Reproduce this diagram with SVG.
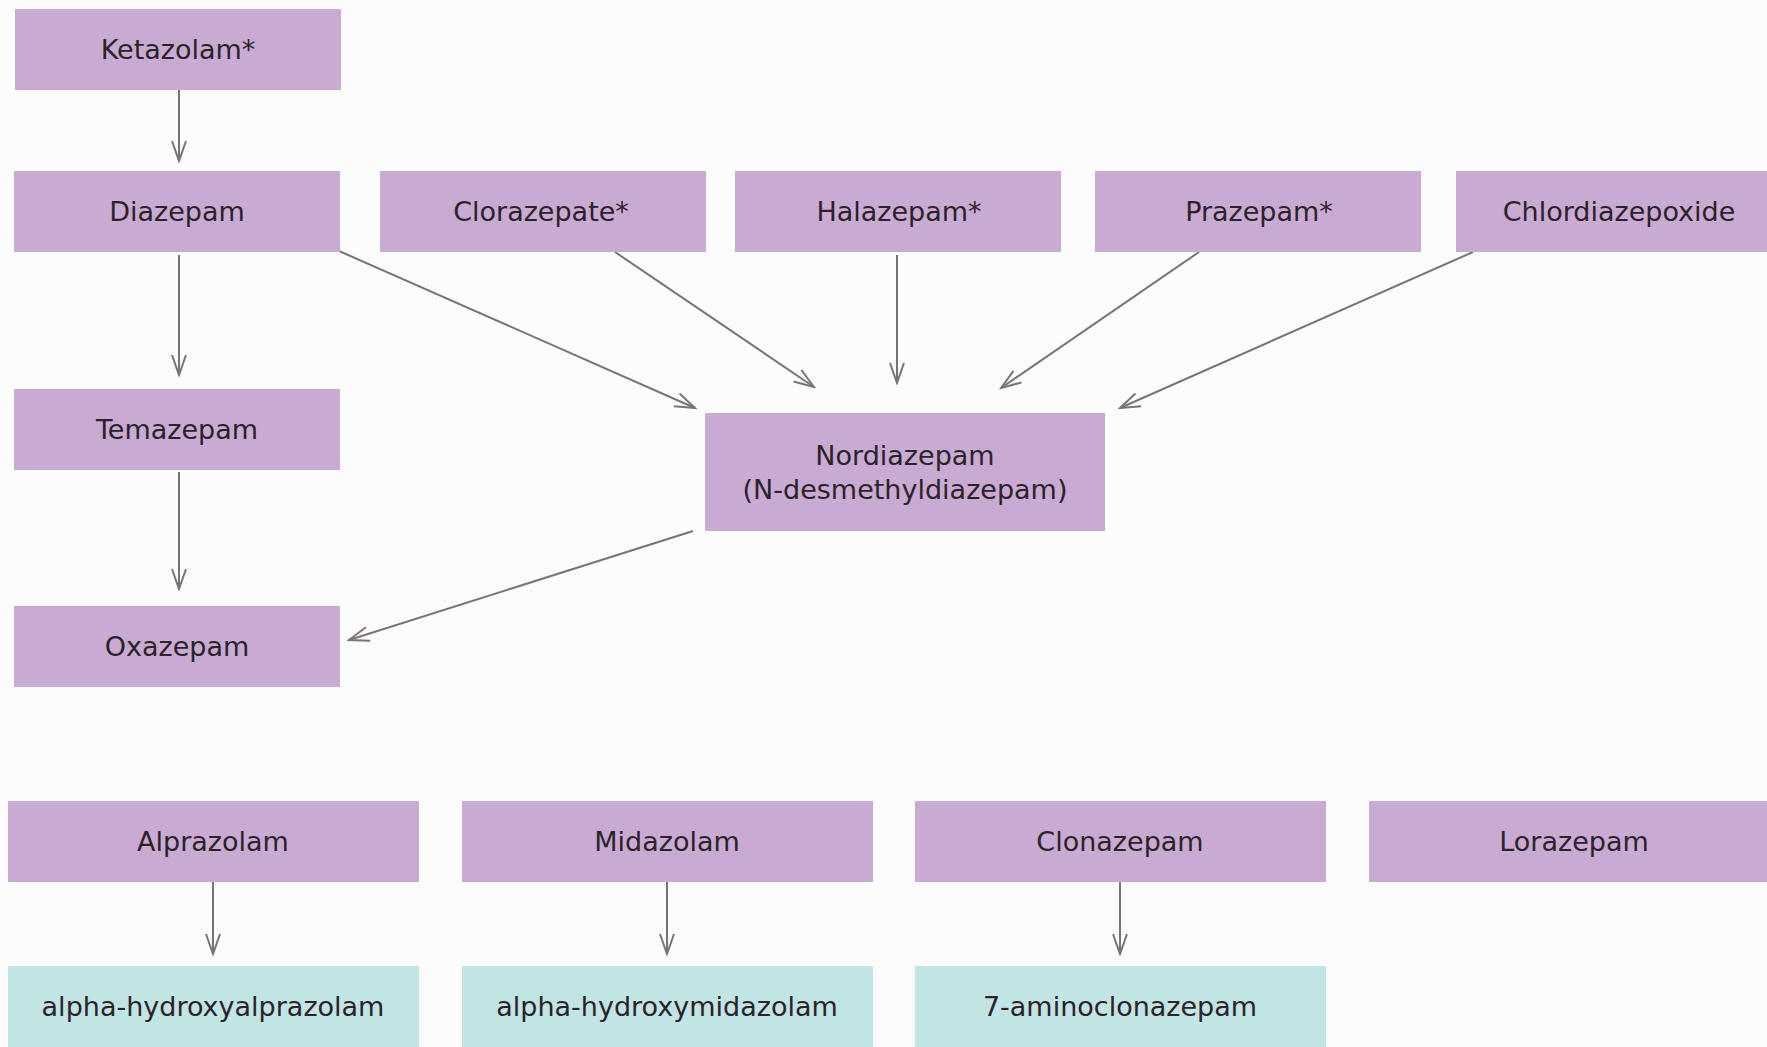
<svg xmlns="http://www.w3.org/2000/svg" width="1767" height="1047" viewBox="0 0 1767 1047">
<defs>
<style>
.p{fill:#c8aad2}
.t{fill:#c1e4e4}
.lb{font-family:"DejaVu Sans",sans-serif;font-size:27px;fill:#2b2329;text-anchor:middle}
.c{stroke:#7a7373;stroke-width:2;fill:none;marker-end:url(#ah)}
</style>
<marker id="ah" markerUnits="userSpaceOnUse" viewBox="-2 -2 24 18" refX="20" refY="7" markerWidth="24" markerHeight="18" orient="auto">
<path d="M0,0 L20,7 L0,14" fill="none" stroke="#7a7373" stroke-width="2"/>
</marker>
</defs>
<rect width="1767" height="1047" fill="#fdfcfc"/>
<g id="connectors">
<line class="c" x1="179" y1="90" x2="179" y2="161"/>
<line class="c" x1="179" y1="255" x2="179" y2="375"/>
<line class="c" x1="179" y1="472" x2="179" y2="589"/>
<line class="c" x1="339" y1="251" x2="695" y2="408"/>
<line class="c" x1="615" y1="252" x2="814" y2="387"/>
<line class="c" x1="897" y1="255" x2="897" y2="383"/>
<line class="c" x1="1199" y1="252" x2="1001" y2="388"/>
<line class="c" x1="1473" y1="252" x2="1120" y2="408"/>
<line class="c" x1="693" y1="531" x2="349" y2="640"/>
<line class="c" x1="213" y1="882" x2="213" y2="954"/>
<line class="c" x1="667" y1="882" x2="667" y2="954"/>
<line class="c" x1="1120" y1="882" x2="1120" y2="954"/>
</g>
<g id="ketazolam"><rect class="p" x="15" y="9" width="326" height="81"/><text class="lb" x="178" y="59">Ketazolam*</text></g>
<g id="diazepam"><rect class="p" x="14" y="171" width="326" height="81"/><text class="lb" x="177" y="221">Diazepam</text></g>
<g id="clorazepate"><rect class="p" x="380" y="171" width="326" height="81"/><text class="lb" x="541" y="221">Clorazepate*</text></g>
<g id="halazepam"><rect class="p" x="735" y="171" width="326" height="81"/><text class="lb" x="899" y="221">Halazepam*</text></g>
<g id="prazepam"><rect class="p" x="1095" y="171" width="326" height="81"/><text class="lb" x="1259" y="221">Prazepam*</text></g>
<g id="chlordiazepoxide"><rect class="p" x="1456" y="171" width="326" height="81"/><text class="lb" x="1619" y="221">Chlordiazepoxide</text></g>
<g id="temazepam"><rect class="p" x="14" y="389" width="326" height="81"/><text class="lb" x="177" y="439">Temazepam</text></g>
<g id="oxazepam"><rect class="p" x="14" y="606" width="326" height="81"/><text class="lb" x="177" y="656">Oxazepam</text></g>
<g id="nordiazepam"><rect class="p" x="705" y="413" width="400" height="118"/><text class="lb" x="905" y="465">Nordiazepam</text><text class="lb" x="905" y="499">(N-desmethyldiazepam)</text></g>
<g id="alprazolam"><rect class="p" x="8" y="801" width="411" height="81"/><text class="lb" x="213" y="851">Alprazolam</text></g>
<g id="midazolam"><rect class="p" x="462" y="801" width="411" height="81"/><text class="lb" x="667" y="851">Midazolam</text></g>
<g id="clonazepam"><rect class="p" x="915" y="801" width="411" height="81"/><text class="lb" x="1120" y="851">Clonazepam</text></g>
<g id="lorazepam"><rect class="p" x="1369" y="801" width="411" height="81"/><text class="lb" x="1574" y="851">Lorazepam</text></g>
<g id="alpha-hydroxyalprazolam"><rect class="t" x="8" y="966" width="411" height="81"/><text class="lb" x="213" y="1016">alpha-hydroxyalprazolam</text></g>
<g id="alpha-hydroxymidazolam"><rect class="t" x="462" y="966" width="411" height="81"/><text class="lb" x="667" y="1016">alpha-hydroxymidazolam</text></g>
<g id="aminoclonazepam"><rect class="t" x="915" y="966" width="411" height="81"/><text class="lb" x="1120" y="1016">7-aminoclonazepam</text></g>
</svg>
